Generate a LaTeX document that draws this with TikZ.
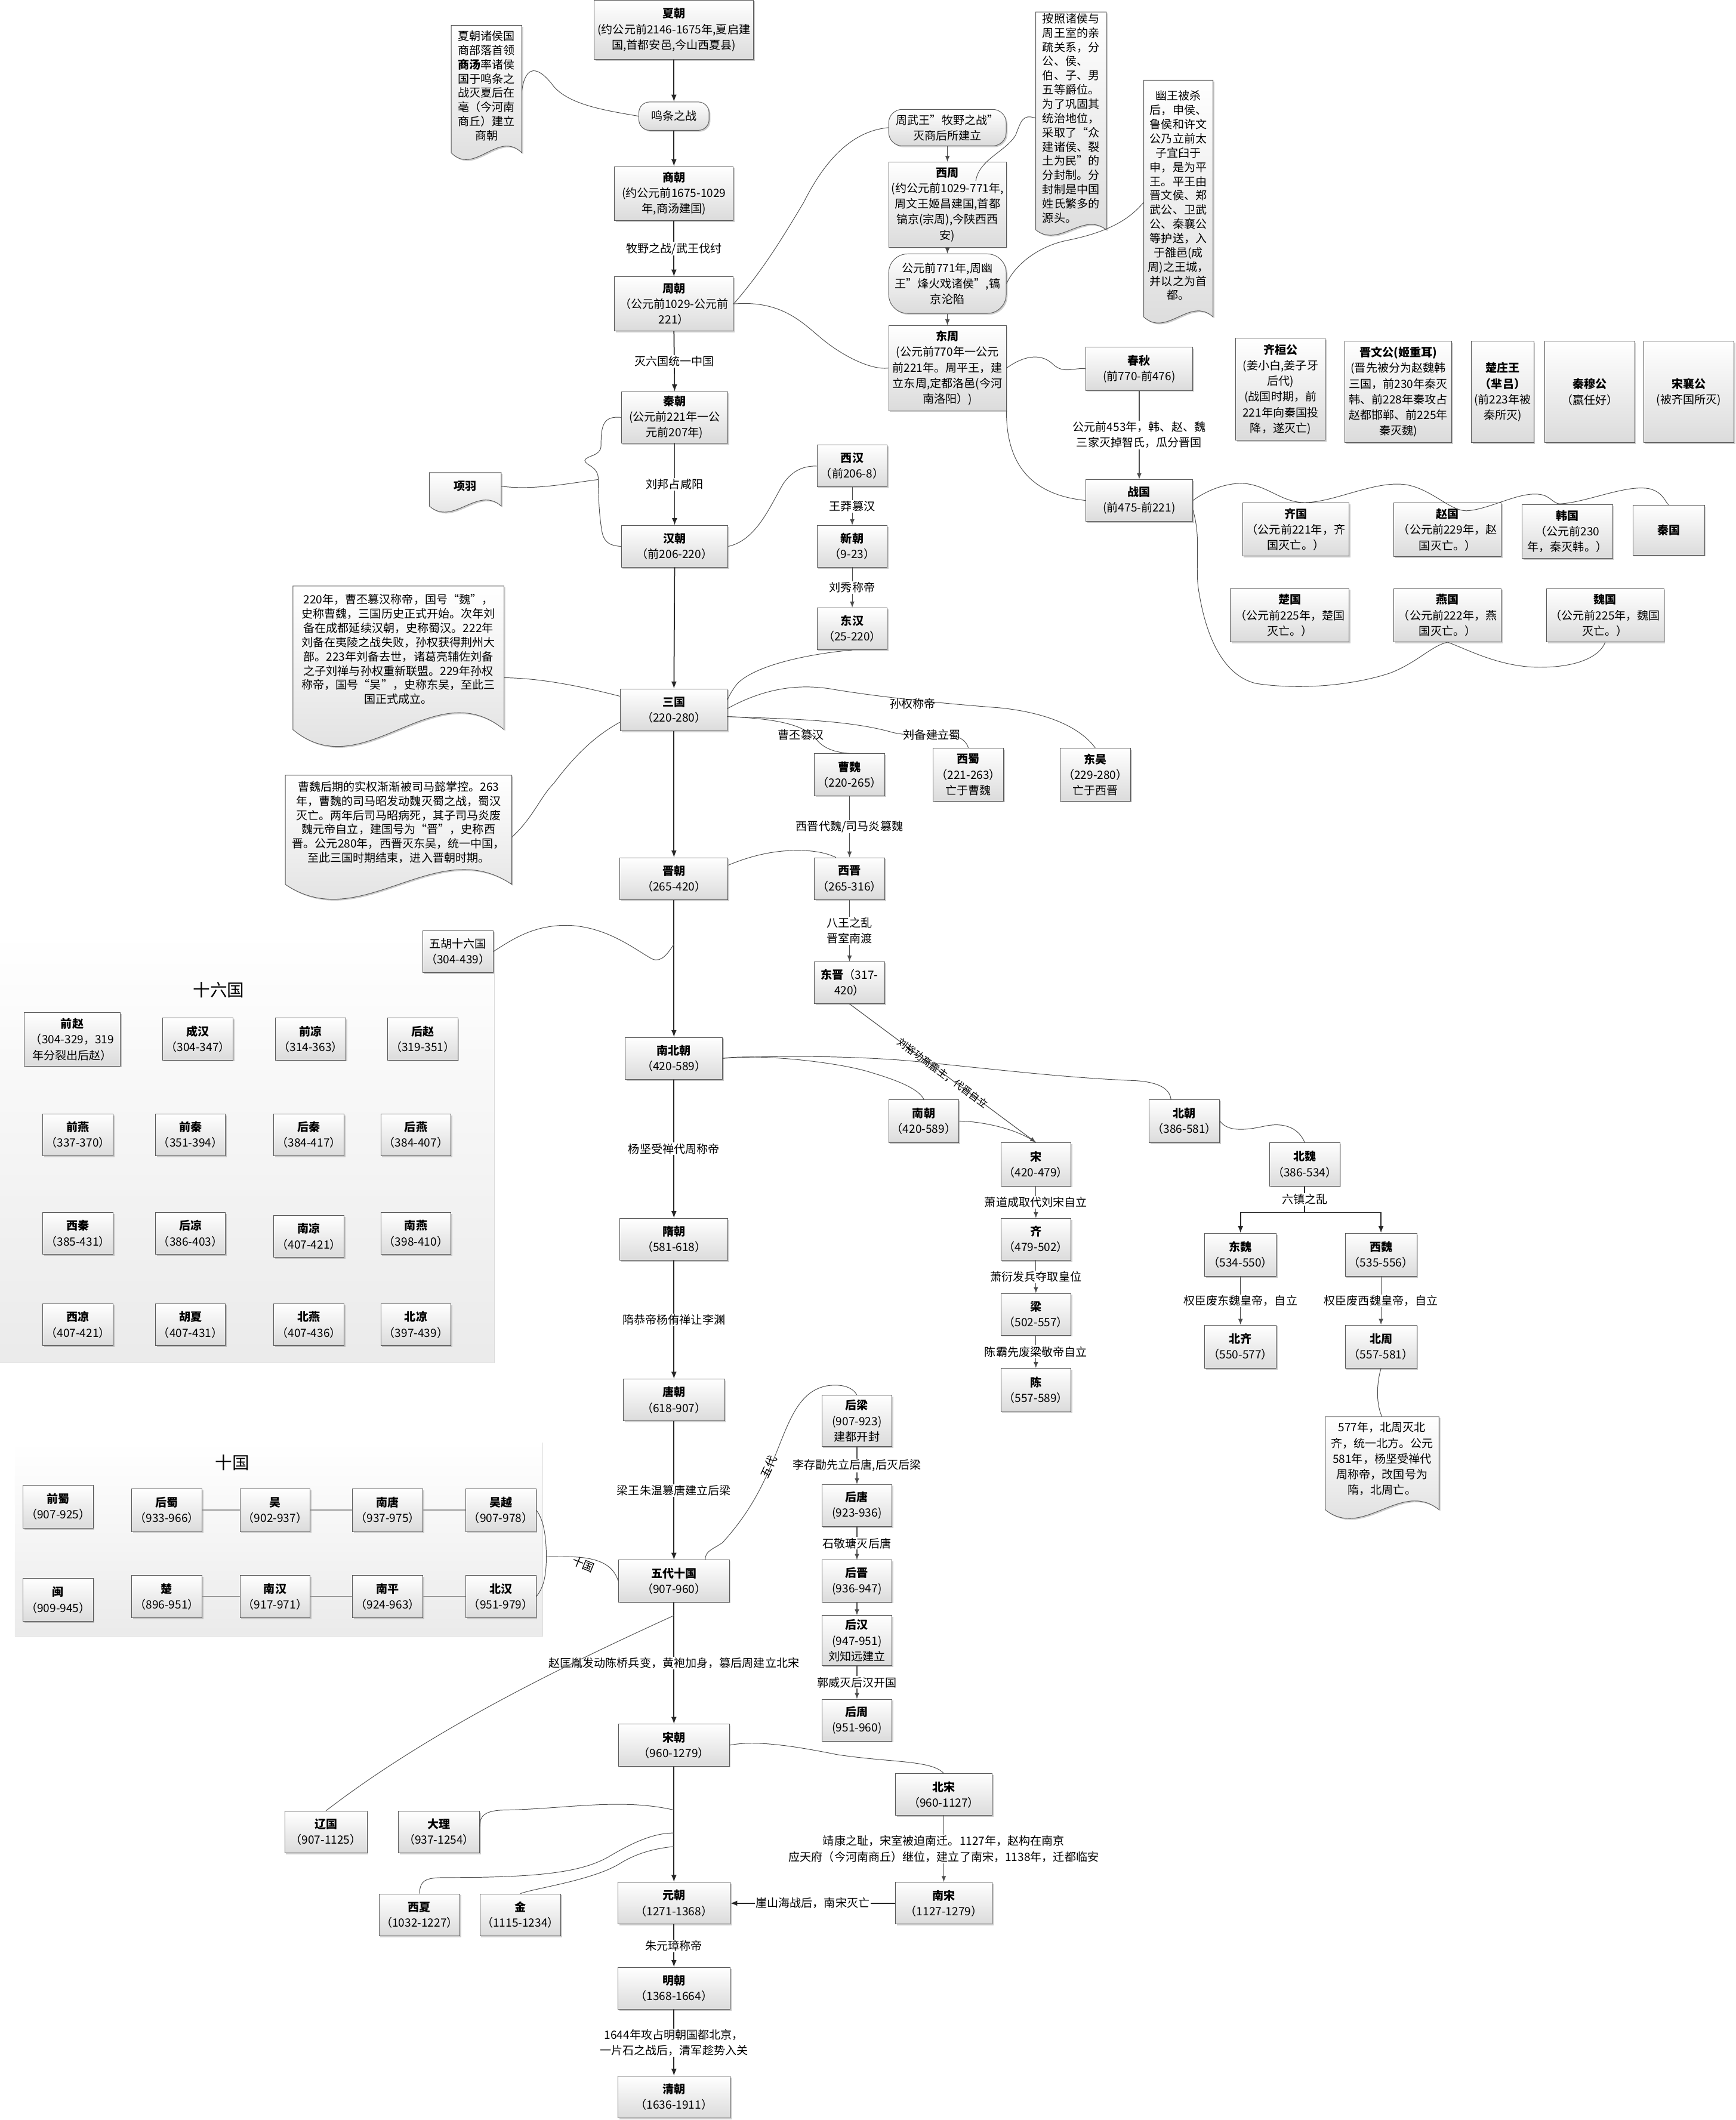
\documentclass[tikz,border=0pt]{standalone}
\usepackage{fontspec}
\setmainfont{Noto Sans CJK SC}
\usetikzlibrary{calc,arrows.meta,shadows,backgrounds}

\newcommand\boxfont{\fontsize{12}{16.5}\selectfont}
\newcommand\notefont{\fontsize{12}{15}\selectfont}
\newcommand\smallfont{\fontsize{10.5}{12}\selectfont}
\newcommand\titlefont{\fontsize{18}{20}\selectfont}

% document shape round a note node: name, width, wave height
\newcommand\docshape[3]{%
  \path[docfill] (#1.north west) -- (#1.north east) -- ($(#1.south east)+(0,#3)$)
    .. controls ($(#1.south east)+({-#2/3},{-2.46*#3})$) and ($(#1.south west)+({#2/3},{4.46*#3})$)
    .. ($(#1.south west)+(0,#3)$) -- cycle;}

\tikzset{
  wh/.style 2 args={minimum width=#1mm, minimum height=#2mm},
  dyn/.style={draw=black!65, line width=0.6pt, top color=white, bottom color=black!14,
    drop shadow={shadow xshift=0.5mm, shadow yshift=-0.5mm, fill=black!40},
    align=center, inner sep=1pt, font=\boxfont},
  roundbox/.style={dyn, rounded corners=#1},
  note/.style={align=center, inner sep=1pt, font=\notefont},
  docfill/.style={draw=black!65, line width=0.6pt, top color=white, bottom color=black!14,
    drop shadow={shadow xshift=0.5mm, shadow yshift=-0.5mm, fill=black!40}},
  lbl/.style={fill=white, inner sep=1pt, align=center, font=\boxfont},
  tag/.style={inner sep=1pt, align=center, font=\boxfont},
  arr/.style={draw=black!85, line width=1.1pt, -{Latex[length=2.6mm,width=2mm]}},
  sarr/.style={draw=black!70, line width=0.7pt, -{Latex[length=2.2mm,width=1.7mm]}},
  link/.style={draw=black!70, line width=0.6pt},
  tklink/.style={draw=black!40, line width=1.2pt},
  panel/.style={top color=white, bottom color=black!8},
  paneledge/.style={draw=black!14, line width=0.8pt},
}

\begin{document}
\begin{tikzpicture}[x=0.5mm, y=-0.5mm]
    \useasboundingbox (0,0) rectangle (1285,1569.5);

    % Main line of dynasties
    \node[dyn, wh={59}{22}] (xia) at (499,22) {\textbf{夏朝}\\(约公元前2146-1675年,夏启建\\国,首都安邑,今山西夏县)};
    \node[roundbox=4mm, wh={26}{10.5}] (mingtiao) at (499,86) {鸣条之战};
    \node[dyn, wh={44}{20}] (shang) at (499,143.3) {\textbf{商朝}\\(约公元前1675-1029\\年,商汤建国)};
    \node[dyn, wh={44}{20}] (zhou) at (499,225) {\textbf{周朝}\\（公元前1029-公元前\\221）};
    \node[dyn, wh={39.5}{19}] (qin) at (499.5,309) {\textbf{秦朝}\\(公元前221年一公\\元前207年)};
    \node[dyn, wh={39.5}{15.5}] (han) at (499.5,404.5) {\textbf{汉朝}\\（前206-220）};
    \node[dyn, wh={39.5}{15.5}] (sanguo) at (499,525.5) {\textbf{三国}\\（220-280）};
    \node[dyn, wh={40}{15.5}] (jinchao) at (499,650.5) {\textbf{晋朝}\\（265-420）};
    \node[dyn, wh={36}{15.5}] (nanbeichao) at (499,783.5) {\textbf{南北朝}\\（420-589）};
    \node[dyn, wh={40}{15.5}] (suichao) at (499,917.5) {\textbf{隋朝}\\（581-618）};
    \node[dyn, wh={37.5}{15.5}] (tangchao) at (499,1036.5) {\textbf{唐朝}\\（618-907）};
    \node[dyn, wh={41}{15.5}] (wudai) at (499,1170.5) {\textbf{五代十国}\\（907-960）};
    \node[dyn, wh={41}{15.5}] (songchao) at (499,1292) {\textbf{宋朝}\\（960-1279）};
    \node[dyn, wh={41.5}{15.5}] (yuanchao) at (499,1409) {\textbf{元朝}\\（1271-1368）};
    \node[dyn, wh={41.5}{15.5}] (mingchao) at (499,1472) {\textbf{明朝}\\（1368-1664）};
    \node[dyn, wh={41.5}{15.5}] (qingchao) at (499,1552.5) {\textbf{清朝}\\（1636-1911）};

    % Zhou branch
    \node[roundbox=5mm, wh={43.5}{13.5}] (zhouwuwang) at (701.5,94.5) {周武王”牧野之战”\\灭商后所建立};
    \node[dyn, wh={43.5}{31.5}] (xizhou) at (701.5,151.5) {\textbf{西周}\\(约公元前1029-771年,\\周文王姬昌建国,首都\\镐京(宗周),今陕西西\\安)};
    \node[roundbox=7mm, wh={43.5}{22}] (fenghuo) at (701.5,210) {公元前771年,周幽\\王”烽火戏诸侯”,镐\\京沦陷};
    \node[dyn, wh={43.5}{31.5}] (dongzhou) at (701.5,272.5) {\textbf{东周}\\(公元前770年一公元\\前221年。周平王，建\\立东周,定都洛邑(今河\\南洛阳）)};
    \node[dyn, wh={39.5}{16}] (chunqiu) at (843.5,273) {\textbf{春秋}\\(前770-前476)};
    \node[dyn, wh={39.5}{15.5}] (zhanguo) at (843.5,370.5) {\textbf{战国}\\(前475-前221)};

    % Five hegemons
    \node[dyn, wh={33.15}{37.75}] (qihuan) at (948.2,288.2) {\textbf{齐桓公}\\(姜小白,姜子牙\\后代)\\(战国时期，前\\221年向秦国投\\降，遂灭亡)};
    \node[dyn, wh={39.5}{37.5}] (jinwen) at (1035.3,290.2) {\textbf{晋文公(姬重耳)}\\(晋先被分为赵魏韩\\三国，前230年秦灭\\韩、前228年秦攻占\\赵都邯郸、前225年\\秦灭魏)};
    \node[dyn, wh={23}{37.5}] (chuzhuang) at (1112.6,290.2) {\textbf{楚庄王}\\\textbf{（芈吕）}\\(前223年被\\秦所灭)};
    \node[dyn, wh={33.35}{37.5}] (qinmu) at (1177,290.2) {\textbf{秦穆公}\\（嬴任好）};
    \node[dyn, wh={33.35}{37.5}] (songxiang) at (1250.5,290.2) {\textbf{宋襄公}\\(被齐国所灭)};

    % Seven warring states
    \node[dyn, wh={39.5}{19.75}] (qiguo) at (959.5,392) {\textbf{齐国}\\（公元前221年，齐\\国灭亡。）};
    \node[dyn, wh={39.65}{19.75}] (zhaoguo) at (1071.8,392.2) {\textbf{赵国}\\（公元前229年，赵\\国灭亡。）};
    \node[dyn, wh={33.5}{19.75}] (hanguo) at (1160.5,393.5) {\textbf{韩国}\\（公元前230\\年，秦灭韩。）};
    \node[dyn, wh={26.5}{18.5}] (qinguo) at (1235.5,392.5) {\textbf{秦国}};
    \node[dyn, wh={44}{19.75}] (chuguo) at (955,455.5) {\textbf{楚国}\\（公元前225年，楚国\\灭亡。）};
    \node[dyn, wh={39.65}{19.75}] (yanguo) at (1071.8,455.5) {\textbf{燕国}\\（公元前222年，燕\\国灭亡。）};
    \node[dyn, wh={43.5}{19.75}] (weiguo) at (1188.5,455.5) {\textbf{魏国}\\（公元前225年，魏国\\灭亡。）};

    % Han and Three Kingdoms
    \node[dyn, wh={26}{15.5}] (xihan) at (631,345) {\textbf{西汉}\\（前206-8）};
    \node[dyn, wh={26}{15.5}] (xinchao) at (631,404.5) {\textbf{新朝}\\（9-23）};
    \node[dyn, wh={26}{15.5}] (donghan) at (631,465.5) {\textbf{东汉}\\（25-220）};
    \node[dyn, wh={26}{15.5}] (caowei) at (629,573.5) {\textbf{曹魏}\\（220-265）};
    \node[dyn, wh={26}{19.5}] (xishu) at (717,573.5) {\textbf{西蜀}\\（221-263）\\亡于曹魏};
    \node[dyn, wh={26}{19.5}] (dongwu) at (811,573.5) {\textbf{东吴}\\（229-280）\\亡于西晋};
    \node[dyn, wh={26}{15.5}] (xijin) at (629,650.5) {\textbf{西晋}\\（265-316）};
    \node[dyn, wh={26}{15.5}] (dongjin) at (629,727.5) {\textbf{东晋}（317-\\420）};
    \node[dyn, wh={26}{15.5}] (wuhu) at (339,704.5) {五胡十六国\\（304-439）};

    % Southern and Northern dynasties
    \node[dyn, wh={26}{16}] (nanchao) at (684,830) {\textbf{南朝}\\（420-589）};
    \node[dyn, wh={26}{16}] (beichao) at (877,830) {\textbf{北朝}\\（386-581）};
    \node[dyn, wh={26}{16}] (song) at (767,862) {\textbf{宋}\\（420-479）};
    \node[dyn, wh={26}{15.5}] (qi) at (767,917.5) {\textbf{齐}\\（479-502）};
    \node[dyn, wh={26}{15.5}] (liang) at (767,973) {\textbf{梁}\\（502-557）};
    \node[dyn, wh={26}{16}] (chen) at (767,1029) {\textbf{陈}\\（557-589）};
    \node[dyn, wh={26}{16}] (beiwei) at (966,862) {\textbf{北魏}\\（386-534）};
    \node[dyn, wh={26.5}{16}] (dongwei) at (918.5,929) {\textbf{东魏}\\（534-550）};
    \node[dyn, wh={26.5}{16}] (xiwei) at (1022.5,929) {\textbf{西魏}\\（535-556）};
    \node[dyn, wh={26.5}{16}] (beiqi) at (918.5,997) {\textbf{北齐}\\（550-577）};
    \node[dyn, wh={26.5}{16}] (beizhou) at (1022.5,997) {\textbf{北周}\\（557-581）};

    % Five dynasties
    \node[dyn, wh={26}{19}] (houliang) at (634.5,1052) {\textbf{后梁}\\(907-923)\\建都开封};
    \node[dyn, wh={26}{15.5}] (houtang) at (634.5,1114.5) {\textbf{后唐}\\(923-936)};
    \node[dyn, wh={26}{15.5}] (houjin) at (634.5,1170.5) {\textbf{后晋}\\(936-947)};
    \node[dyn, wh={26}{18.5}] (houhan) at (634.5,1214.5) {\textbf{后汉}\\(947-951)\\刘知远建立};
    \node[dyn, wh={26}{15.5}] (houzhou) at (634.5,1273.5) {\textbf{后周}\\(951-960)};

    % Song and its neighbours
    \node[dyn, wh={30.5}{15.5}] (liao) at (241.3,1356.3) {\textbf{辽国}\\（907-1125）};
    \node[dyn, wh={30}{15.5}] (dali) at (325,1356.3) {\textbf{大理}\\（937-1254）};
    \node[dyn, wh={30}{15.5}] (xixia) at (310.6,1417.6) {\textbf{西夏}\\（1032-1227）};
    \node[dyn, wh={30}{15.5}] (jin) at (385.3,1417.6) {\textbf{金}\\（1115-1234）};
    \node[dyn, wh={35.8}{15.5}] (beisong) at (698.8,1328.6) {\textbf{北宋}\\（960-1127）};
    \node[dyn, wh={35.8}{15.5}] (nansong) at (698.8,1409) {\textbf{南宋}\\（1127-1279）};

    % Sixteen kingdoms
    \node[font=\titlefont] (title16) at (162,733) {十六国};
    \node[dyn, wh={35.5}{19.75}] (qianzhao) at (53.5,769.5) {\textbf{前赵}\\（304-329，319\\年分裂出后赵）};
    \foreach \nm/\cx/\cy/\tl/\yr in {chenghan/146.5/769.3/成汉/304-347, qianliang/230/769.3/前凉/314-363,
        houzhao/313/769.3/后赵/319-351, qianyan/57.7/840.2/前燕/337-370, qianqin/141/840.2/前秦/351-394,
        houqin/228.7/840.2/后秦/384-417, houyan/308/840.2/后燕/384-407, xiqin/57.7/913.2/西秦/385-431,
        hliang/141/913.2/后凉/386-403, nanliang/228.7/915.4/南凉/407-421, nanyan/308/913.2/南燕/398-410,
        xiliang/57.7/980.8/西凉/407-421, huxia/141/980.8/胡夏/407-431, beiyan/228.7/980.8/北燕/407-436,
        beiliang/308/980.8/北凉/397-439} {
        \node[dyn, wh={26}{15.5}] (\nm) at (\cx,\cy) {\textbf{\tl}\\（\yr）};
    };

    % Ten kingdoms
    \node[font=\titlefont] (title10) at (172,1083) {十国};
    \foreach \nm/\cx/\cy/\tl/\yr in {qianshu/43/1115.5/前蜀/907-925, min/43/1184.5/闽/909-945,
        houshu/123.5/1118/后蜀/933-966, wu/203.7/1118/吴/902-937, nantang/287/1118/南唐/937-975,
        wuyue/370.8/1118/吴越/907-978, chu/123.5/1182/楚/896-951, nanhan/203.7/1182/南汉/917-971,
        nanping/287/1182/南平/924-963, beihan/370.8/1182/北汉/951-979} {
        \node[dyn, wh={26}{15.8}] (\nm) at (\cx,\cy) {\textbf{\tl}\\（\yr）};
    };
    \foreach \a/\b in {houshu/wu, wu/nantang, nantang/wuyue, chu/nanhan, nanhan/nanping, nanping/beihan} {
        \draw[tklink] (\a) -- (\b);
    };

    % Notes
    \node[note, wh={26}{44.5}] (noteshang) at (360.2,63.5) {夏朝诸侯国\\商部落首领\\\textbf{商汤}率诸侯\\国于鸣条之\\战灭夏后在\\亳（今河南\\商丘）建立\\商朝};
    \node[note, align=left, wh={26}{78.5}] (notefeng) at (793,87.5) {按照诸侯与\\周王室的亲\\疏关系，分\\公、侯、\\伯、子、男\\五等爵位。\\为了巩固其\\统治地位，\\采取了“众\\建诸侯、裂\\土为民”的\\分封制。分\\封制是中国\\姓氏繁多的\\源头。};
    \node[note, wh={25.5}{85.25}] (noteyou) at (872.5,144.75) {幽王被杀\\后，申侯、\\鲁侯和许文\\公乃立前太\\子宜臼于\\申，是为平\\王。平王由\\晋文侯、郑\\武公、卫武\\公、秦襄公\\等护送，入\\于雒邑(成\\周)之王城，\\并以之为首\\都。};
    \node[note, wh={26.5}{10}] (xiangyu) at (344.5,360) {\textbf{项羽}};
    \node[note, wh={78}{46.75}] (notesg1) at (295,480.75) {220年，曹丕篡汉称帝，国号“魏”，\\史称曹魏，三国历史正式开始。次年刘\\备在成都延续汉朝，史称蜀汉。222年\\刘备在夷陵之战失败，孙权获得荆州大\\部。223年刘备去世，诸葛亮辅佐刘备\\之子刘禅与孙权重新联盟。229年孙权\\称帝，国号“吴”，史称东吴，至此三\\国正式成立。};
    \node[note, wh={83.7}{34.75}] (notesg2) at (295.1,608.85) {曹魏后期的实权渐渐被司马懿掌控。263\\年，曹魏的司马昭发动魏灭蜀之战，蜀汉\\灭亡。两年后司马昭病死，其子司马炎废\\魏元帝自立，建国号为“晋”，史称西\\晋。公元280年，西晋灭东吴，统一中国，\\至此三国时期结束，进入晋朝时期。};
    \node[note, font=\boxfont, wh={42}{31}] (notebz) at (1023.3,1080) {577年，北周灭北\\齐，统一北方。公元\\581年，杨坚受禅代\\周称帝，改国号为\\隋，北周亡。};

    % Arrows of the main line
    \draw[arr] (xia.south) -- (mingtiao.north);
    \draw[arr] (mingtiao.south) -- (shang.north);
    \draw[arr] (shang.south) -- node[lbl, midway] {牧野之战/武王伐纣} (zhou.north);
    \draw[arr] (zhou.south) -- node[lbl, midway] {灭六国统一中国} (qin.north);
    \draw[arr] (qin.south) -- node[lbl, midway] {刘邦占咸阳} (han.north);
    \draw[arr] (han.south) -- (sanguo.north);
    \draw[arr] (sanguo.south) -- (jinchao.north);
    \draw[arr] (jinchao.south) -- (nanbeichao.north);
    \draw[arr] (nanbeichao.south) -- node[lbl, midway] {杨坚受禅代周称帝} (suichao.north);
    \draw[arr] (suichao.south) -- node[lbl, midway] {隋恭帝杨侑禅让李渊} (tangchao.north);
    \draw[arr] (tangchao.south) -- node[lbl, midway] {梁王朱温篡唐建立后梁} (wudai.north);
    \draw[arr] (wudai.south) -- node[lbl, midway] {赵匡胤发动陈桥兵变，黄袍加身，篡后周建立北宋} (songchao.north);
    \draw[arr] (songchao.south) -- (yuanchao.north);
    \draw[arr] (yuanchao.south) -- node[lbl, midway] {朱元璋称帝} (mingchao.north);
    \draw[arr] (mingchao.south) -- node[lbl, midway] {1644年攻占明朝国都北京，\\一片石之战后，清军趁势入关} (qingchao.north);

    % Side arrows
    \draw[sarr] (zhouwuwang.south) -- (xizhou.north);
    \draw[sarr] (xizhou.south) -- (fenghuo.north);
    \draw[sarr] (fenghuo.south) -- (dongzhou.north);
    \draw[sarr] (chunqiu.south) -- node[lbl, midway] {公元前453年，韩、赵、魏\\三家灭掉智氏，瓜分晋国} (zhanguo.north);
    \draw[sarr] (xihan.south) -- node[lbl, midway] {王莽篡汉} (xinchao.north);
    \draw[sarr] (xinchao.south) -- node[lbl, midway] {刘秀称帝} (donghan.north);
    \draw[sarr] (caowei.south) -- node[lbl, midway] {西晋代魏/司马炎篡魏} (xijin.north);
    \draw[sarr] (xijin.south) -- node[lbl, midway] {八王之乱\\晋室南渡} (dongjin.north);
    \draw[sarr] (dongjin.south) -- node[tag, sloped, midway, font=\smallfont] {刘裕功高震主，代晋自立} (song.north);
    \draw[sarr] (song.south) -- node[lbl, midway] {萧道成取代刘宋自立} (qi.north);
    \draw[sarr] (qi.south) -- node[lbl, midway] {萧衍发兵夺取皇位} (liang.north);
    \draw[sarr] (liang.south) -- node[lbl, midway] {陈霸先废梁敬帝自立} (chen.north);
    \coordinate (weisplit) at ($(beiwei.south)+(0,19.5)$);
    \draw[draw=black!85, line width=1pt] (beiwei.south) -- node[lbl, midway] {六镇之乱} (weisplit);
    \draw[arr, line width=1pt] (weisplit) -| (dongwei.north);
    \draw[arr, line width=1pt] (weisplit) -| (xiwei.north);
    \draw[sarr] (dongwei.south) -- node[lbl, midway] {权臣废东魏皇帝，自立} (beiqi.north);
    \draw[sarr] (xiwei.south) -- node[lbl, midway] {权臣废西魏皇帝，自立} (beizhou.north);
    \draw[sarr] (houliang.south) -- node[lbl, midway] {李存勖先立后唐,后灭后梁} (houtang.north);
    \draw[sarr] (houtang.south) -- node[lbl, midway] {石敬瑭灭后唐} (houjin.north);
    \draw[sarr] (houjin.south) -- (houhan.north);
    \draw[sarr] (houhan.south) -- node[lbl, midway] {郭威灭后汉开国} (houzhou.north);
    \draw[sarr] (beisong.south) -- node[lbl, midway] {靖康之耻，宋室被迫南迁。1127年，赵构在南京\\应天府（今河南商丘）继位，建立了南宋，1138年，迁都临安} (nansong.north);
    \draw[arr, line width=1.3pt] (nansong.west) -- node[lbl, midway] {崖山海战后，南宋灭亡} (yuanchao.east);

    % Curved connectors, top part
    \draw[link] ($(noteshang.east)+(0,4)$) .. controls (389,48) and (398,48) .. (410,64) .. controls (422,78) and (450,82) .. (mingtiao.west);
    \draw[link] (zhou.east) .. controls (565,200) and (580,175) .. (595,150) .. controls (610,120) and (630,97) .. (zhouwuwang.west);
    \draw[link] (zhou.east) .. controls (580,222) and (595,240) .. (610,252) .. controls (625,264) and (645,274) .. (dongzhou.west);
    \draw[link] ($(xizhou.north)+(21,14)$) .. controls (725,118) and (745,112) .. (752,100) .. controls (756,90) and (757,84) .. (notefeng.west);
    \draw[link] (fenghuo.east) .. controls (752,195) and (770,182) .. (790,178) .. controls (825,171) and (838,160) .. ($(noteyou.west)+(0,5)$);
    \draw[link] (dongzhou.east) .. controls (760,262) and (772,262) .. (780,270) .. controls (788,277) and (795,272) .. (chunqiu.west);
    \draw[link] (dongzhou.south east) .. controls (745,340) and (760,366) .. (zhanguo.west);
    \draw[link] (zhanguo.east) .. controls (895,362) and (910,357) .. (922,358) .. controls (940,360) and (950,373) .. (968,372)
        .. controls (990,371) and (1020,355) .. (1042,359) .. controls (1062,363) and (1075,380) .. (1088,378)
        .. controls (1105,376) and (1125,364) .. (1140,366) .. controls (1148,367) and (1150,373) .. (1155,373)
        .. controls (1175,372) and (1205,358) .. (1222,362) .. controls (1232,365) and (1233,372) .. (qinguo.north);
    \draw[link] ($(zhanguo.east)+(0,7)$) .. controls (890,400) and (884,420) .. (888,440) .. controls (893,470) and (905,500) .. (930,506)
        .. controls (970,512) and (1010,505) .. (1030,498) .. controls (1050,490) and (1060,478) .. (yanguo.south)
        .. controls (1085,480) and (1110,494) .. (1140,494) .. controls (1170,494) and (1185,485) .. (weiguo.south);

    % Curved connectors, Qin to Three Kingdoms
    \coordinate (brace) at (443,355);
    \draw[link] (qin.west) .. controls (447,308) and (445,314) .. (445,330) .. controls (445,338) and (434,337) .. (433,341)
        .. controls (434,345) and (443,345) .. (brace) .. controls (443,370) and (444,385) .. (446,395)
        .. controls (448,402) and (452,404) .. (han.west);
    \draw[link] (xiangyu.east) .. controls (395,363) and (420,358) .. (brace);
    \draw[link] (han.east) .. controls (560,400) and (570,375) .. (580,358) .. controls (587,348) and (595,345) .. (xihan.west);
    \draw[link] (donghan.south) .. controls (600,484) and (560,492) .. (546,506) .. controls (542,511) and (540,515) .. ($(sanguo.north east)+(0,8)$);
    \draw[link] ($(sanguo.east)+(0,-1)$) .. controls (565,510) and (590,506) .. (615,510) .. controls (650,516) and (700,521) .. (740,524)
        .. controls (770,527) and (798,536) .. (dongwu.north);
    \draw[link] ($(sanguo.east)+(0,5)$) .. controls (570,532) and (625,532) .. (660,542) .. controls (682,548) and (712,537) .. (xishu.north);
    \draw[link] ($(sanguo.east)+(0,5)$) .. controls (570,532) and (595,535) .. (605,548) .. controls (610,554) and (618,557) .. (caowei.north);
    \node[tag] (lsunquan) at (676,521) {孙权称帝};
    \node[tag] (lliubei) at (690,544) {刘备建立蜀};
    \node[tag] (lcaopi) at (593,544) {曹丕篡汉};
    \draw[link] ($(notesg1.east)+(0,21)$) .. controls (400,502) and (430,508) .. ($(sanguo.west)+(0,-10)$);
    \draw[link] ($(notesg2.east)+(0,11)$) .. controls (395,605) and (400,590) .. (410,580) .. controls (425,560) and (440,545) .. ($(sanguo.west)+(0,9)$);

    % Curved connectors, Jin to Northern and Southern dynasties
    \draw[link] ($(jinchao.east)+(0,-10)$) .. controls (555,634) and (575,628) .. (600,630) .. controls (610,631) and (615,633) .. ($(xijin.north)+(-10,0)$);
    \coordinate (wuhuin) at (499,699);
    \draw[link] (wuhu.east) .. controls (380,695) and (395,685) .. (420,685) .. controls (450,686) and (470,703) .. (483,710)
        .. controls (490,713) and (495,705) .. (wuhuin);
    \draw[link] (nanbeichao.east) .. controls (560,780) and (620,786) .. (645,794) .. controls (665,800) and (680,806) .. (nanchao.north);
    \draw[link] (nanbeichao.east) .. controls (580,781) and (640,782) .. (680,786) .. controls (740,792) and (790,798) .. (840,800)
        .. controls (858,801) and (866,806) .. ($(beichao.north)+(-10,0)$);
    \draw[link] (nanchao.east) .. controls (725,830) and (752,835) .. (song.north);
    \draw[link] (beichao.east) .. controls (908,836) and (916,838) .. (935,834) .. controls (952,830) and (962,836) .. (beiwei.north);
    \draw[link] (beizhou.south) .. controls (1019,1025) and (1019,1040) .. (notebz.north);

    % Curved connectors, Five Dynasties and Song
    \draw[link] ($(wudai.north east)+(-18,0)$) .. controls (522,1148) and (528,1147) .. (535,1142) .. controls (555,1120) and (565,1100) .. (575,1075)
        .. controls (585,1050) and (592,1030) .. (612,1026) .. controls (625,1024) and (632,1028) .. (houliang.north);
    \node[tag, rotate=65] (lwudai) at (569,1086) {五代};
    \coordinate (tenjoin) at (404.5,1152.5);
    \draw[link] (wuyue.east) .. controls (403,1125) and (404.5,1140) .. (tenjoin);
    \draw[link] (beihan.east) .. controls (403,1175) and (404.5,1165) .. (tenjoin);
    \draw[link] (tenjoin) .. controls (430,1152) and (452,1152) .. (wudai.west);
    \node[tag, rotate=-22] (lten) at (432,1158) {十国};
    \coordinate (liaoin) at (499,1196);
    \draw[link] (liaoin) .. controls (420,1232) and (320,1280) .. (liao.north);
    \draw[link] (songchao.east) .. controls (560,1288) and (590,1293) .. (620,1299) .. controls (660,1305) and (690,1303) .. (beisong.north);
    \coordinate (daliin) at (499,1340);
    \draw[link] ($(dali.east)+(0,-4)$) .. controls (355,1345) and (358,1340) .. (375,1340) .. controls (420,1339) and (460,1331) .. (daliin);
    \coordinate (xixiain) at (499,1357);
    \draw[link] (xixia.north) .. controls (311,1392) and (315,1390) .. (330,1390) .. controls (400,1390) and (430,1386) .. (450,1375)
        .. controls (470,1363) and (485,1357) .. (xixiain);
    \coordinate (jinin) at (499,1367);
    \draw[link] (jin.north) .. controls (395,1398) and (440,1392) .. (460,1379) .. controls (475,1370) and (490,1368) .. (jinin);

    % Panels and note outlines behind the text
    \begin{pgfonlayer}{background}
        \shade[panel] (0,690) rectangle (366,1009);
        \draw[paneledge] (366,690) -- (366,1009) -- (0,1009);
        \shade[panel] (11,1068) rectangle (402,1211.5);
        \draw[paneledge] (402,1068) -- (402,1211.5) -- (11,1211.5);
        \docshape{noteshang}{52}{5}
        \docshape{notefeng}{52}{4}
        \docshape{noteyou}{51}{4.5}
        \docshape{xiangyu}{53}{4.5}
        \docshape{notesg1}{156}{12.5}
        \docshape{notesg2}{167.4}{11}
        \docshape{notebz}{84}{6.5}
    \end{pgfonlayer}
\end{tikzpicture}
\end{document}
